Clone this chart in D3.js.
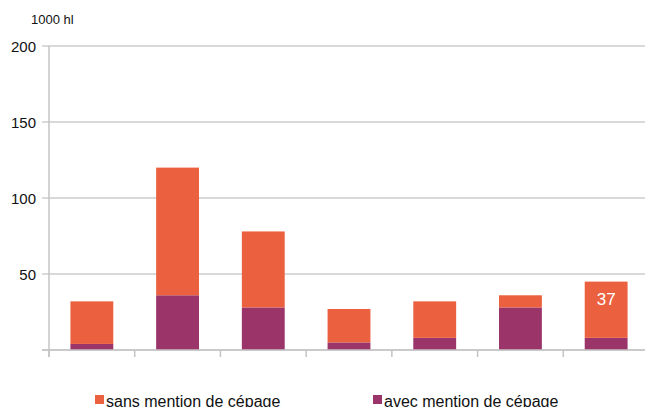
<!DOCTYPE html>
<html>
<head>
<meta charset="utf-8">
<script src="https://cdn.jsdelivr.net/npm/d3@7"></script>
<style>
  body { margin: 0; background: #fff; }
  svg { display: block; font-family: "Liberation Sans", Arial, sans-serif; }
</style>
</head>
<body>
<script>
// data (1000 hl)
var categories = ["c1", "c2", "c3", "c4", "c5", "c6", "c7"];
var avecMention = [4, 36, 28, 5, 8, 28, 8];
var sansMention = [28, 84, 50, 22, 24, 8, 37];
var yTicks = [0, 50, 100, 150, 200];
var seriesNames = ["sans mention de cépage", "avec mention de cépage"];
var seriesColors = ["#eb613f", "#9b3569"];
var labelled = [6]; // only the last bar shows its value

var width = 645, height = 407;
var margin = { left: 49, right: -4, top: 46, bottom: 57 };

var svg = d3.select("body").append("svg")
    .attr("width", width)
    .attr("height", height);

var x = d3.scaleBand()
    .domain(categories)
    .range([margin.left, width - margin.right])
    .paddingInner(0.5)
    .paddingOuter(0.25);

var y = d3.scaleLinear()
    .domain([0, 200])
    .range([height - margin.bottom, margin.top]);

// gridlines
svg.selectAll(".grid")
    .data(yTicks)
    .enter()
    .append("line")
    .attr("x1", margin.left - 7)
    .attr("x2", width)
    .attr("y1", function (d) { return y(d); })
    .attr("y2", function (d) { return y(d); })
    .attr("stroke", "#cccccc")
    .attr("stroke-width", 1.5);

// y tick labels
svg.selectAll(".ylab")
    .data(yTicks.filter(function (d) { return d > 0; }))
    .enter()
    .append("text")
    .attr("x", 36)
    .attr("y", function (d) { return y(d) + 5.5; })
    .attr("text-anchor", "end")
    .attr("font-size", "15px")
    .attr("fill", "#111")
    .text(function (d) { return d; });

svg.append("text")
    .attr("x", 31)
    .attr("y", 24)
    .attr("font-size", "13px")
    .attr("fill", "#111")
    .text("1000 hl");

// stacked bars
var rows = categories.map(function (c, i) {
    return { cat: c, avec: avecMention[i], sans: sansMention[i] };
});
var stack = d3.stack().keys(["avec", "sans"])(rows);
var colorOf = { avec: seriesColors[1], sans: seriesColors[0] };

stack.forEach(function (layer) {
    svg.selectAll(".bar-" + layer.key)
        .data(layer)
        .enter()
        .append("rect")
        .attr("x", function (d) { return x(d.data.cat); })
        .attr("width", x.bandwidth())
        .attr("y", function (d) { return y(d[1]); })
        .attr("height", function (d) { return y(d[0]) - y(d[1]); })
        .attr("fill", colorOf[layer.key]);
});

// value label
var sansLayer = stack[1];
svg.selectAll(".vlab")
    .data(labelled)
    .enter()
    .append("text")
    .attr("x", function (i) { return x(categories[i]) + x.bandwidth() / 2; })
    .attr("y", function (i) { return y(sansLayer[i][1]) + 23; })
    .attr("text-anchor", "middle")
    .attr("font-size", "17px")
    .attr("fill", "#fff")
    .text(function (i) { return sansMention[i]; });

// axes lines
var step = x.step();
svg.append("line")
    .attr("x1", margin.left).attr("x2", margin.left)
    .attr("y1", y(200)).attr("y2", y(0) + 7)
    .attr("stroke", "#c4c4c4").attr("stroke-width", 1.5);

var tickXs = d3.range(categories.length + 1).map(function (i) { return margin.left + i * step; });
svg.selectAll(".xtick")
    .data(tickXs)
    .enter()
    .append("line")
    .attr("x1", function (d) { return d; })
    .attr("x2", function (d) { return d; })
    .attr("y1", y(0))
    .attr("y2", y(0) + 7)
    .attr("stroke", "#c4c4c4")
    .attr("stroke-width", 1.5);

svg.append("line")
    .attr("x1", margin.left - 7).attr("x2", width)
    .attr("y1", y(0)).attr("y2", y(0))
    .attr("stroke", "#c4c4c4").attr("stroke-width", 1.5);

// legend
var legendX = [95, 373];
var legend = svg.selectAll(".legend")
    .data(seriesNames)
    .enter()
    .append("g")
    .attr("transform", function (d, i) { return "translate(" + legendX[i] + ",395)"; });

legend.append("rect")
    .attr("width", 9).attr("height", 9)
    .attr("fill", function (d, i) { return seriesColors[i]; });

legend.append("text")
    .attr("x", 11)
    .attr("y", 11.5)
    .attr("font-size", "16px")
    .attr("fill", "#111")
    .text(function (d) { return d; });
</script>
</body>
</html>
